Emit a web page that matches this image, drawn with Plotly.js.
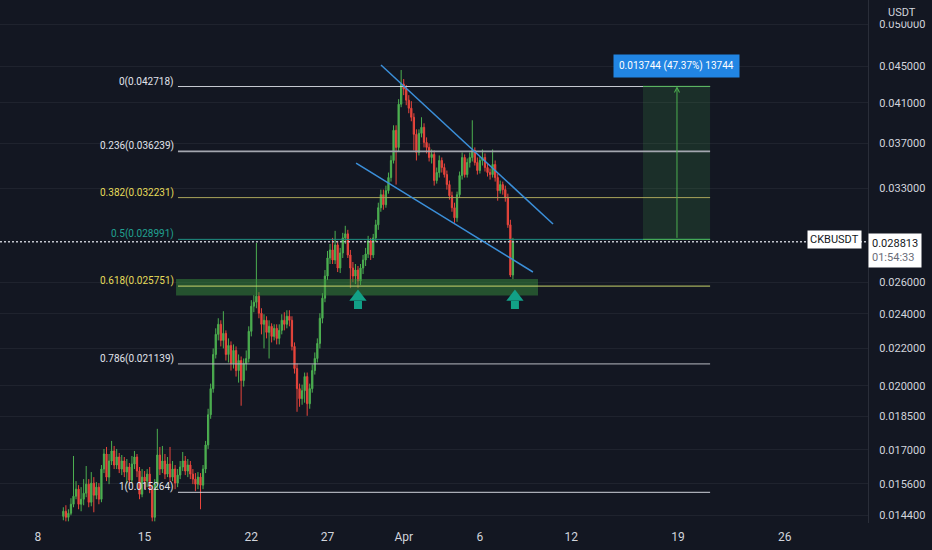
<!DOCTYPE html>
<html><head><meta charset="utf-8">
<script src="https://cdn.plot.ly/plotly-3.0.1.min.js"></script>
<style>html,body{margin:0;padding:0;background:#131722;}#chart{width:932px;height:550px;}</style>
</head><body><div id="chart"></div>
<script>
// ---- candle data (4h candles, CKB/USDT) ----
const candleStartUTC = [2021, 2, 9, 16];   // 2021-03-09 16:00
const candleHours = 4;
const open = [
.014363,.014548,.014327,.014474,.014809,.015114,.015386,.014809,.014999,.01523,
.015584,.014885,.015624,.015152,.015465,.014999,.016191,.016822,.015864,.016525,
.016951,.016358,.016694,.016191,.016525,.016068,.016275,.015744,.0164,.016694,
.016109,.015191,.015864,.015704,.015986,.015386,.014327,.015584,.016779,.016191,
.016525,.015986,.0164,.015864,.016191,.015624,.015945,.016275,.016525,.016109,
.016358,.015986,.015784,.015584,.015864,.015544,.016191,.017213,.018581,.019854,
.021651,.022784,.023373,.022438,.022842,.021651,.022154,.02116,.021873,.020787,
.021323,.020263,.02116,.021432,.022959,.02447,.02472,.025102,.024038,.023373,
.023612,.0229,.023254,.022668,.023135,.022553,.023017,.023612,.023373,.023854,
.023612,.022098,.020893,.019854,.019354,.019753,.020471,.019109,.019854,.020787,
.021432,.022267,.023733,.024974,.026415,.027655,.028225,.027514,.028586,.026959,
.02801,.029101,.029399,.027867,.026959,.026415,.026822,.02608,.026959,.027514,
.027938,.028879,.027867,.029101,.030081,.031414,.032472,.031655,.032805,.033911,
.035412,.038226,.036605,.040845,.042983,.042438,.041264,.040432,.039515,.037839,
.036141,.037935,.03852,.037074,.036605,.035684,.035957,.033653,.034345,.035412,
.034786,.03417,.033311,.03239,.031414,.030623,.032472,.034084,.035684,.03417,
.035232,.035684,.036326,.035232,.034521,.035412,.035684,.034786,.034345,.03417,
.035053,.033911,.032805,.033311,.032889,.032225,.030081,.026482];
const high = [
.014696,.014771,.014622,.015037,.016737,.015704,.015544,.015465,.015784,.016316,
.015784,.016068,.015864,.015664,.015624,.016358,.017038,.017125,.016822,.017389,
.017169,.017038,.016865,.016779,.016694,.01661,.016441,.016737,.016951,.016822,
.016275,.016191,.016109,.016191,.016275,.015544,.015784,.01793,.017125,.017169,
.016822,.016694,.017125,.016525,.016358,.016191,.016525,.016908,.016737,.01661,
.016525,.016191,.016027,.016068,.016027,.016358,.017389,.018867,.020109,.021985,
.023135,.023733,.023612,.024161,.023017,.022553,.022381,.022211,.022098,.021651,
.021541,.021432,.021873,.023254,.024847,.025166,.028732,.025359,.024346,.023976,
.023854,.023612,.023432,.023373,.023373,.023373,.023976,.024099,.024222,.024222,
.023854,.022324,.02116,.020109,.020058,.020681,.020681,.020109,.021107,.021762,
.022553,.024038,.025294,.026822,.028153,.028659,.029101,.029625,.028879,.028369,
.029474,.030005,.0297,.028225,.027374,.027235,.027097,.027235,.027867,.028369,
.029249,.029101,.029399,.030467,.031817,.032889,.032889,.033226,.034345,.035866,
.038717,.038717,.041369,.044543,.043534,.042874,.041794,.041159,.03992,.038324,
.038324,.039515,.038915,.03755,.03698,.036419,.036326,.034786,.035866,.035684,
.035142,.034521,.033653,.032722,.031817,.032722,.034433,.036141,.035957,.035593,
.036141,.039214,.036605,.035684,.035775,.036419,.036049,.035142,.034697,.036419,
.035412,.034258,.033653,.033567,.033226,.032555,.030467,.029101];
const low = [
.014218,.014181,.014181,.0144,.014696,.014999,.014622,.014548,.014771,.015075,
.014696,.014733,.01451,.014999,.014809,.014885,.016027,.015704,.015584,.016358,
.016191,.016191,.016027,.015945,.015864,.015584,.015505,.015624,.016191,.015864,
.014999,.015075,.015386,.015465,.01523,.014181,.014181,.015386,.015945,.016027,
.015784,.015864,.015664,.015704,.015386,.015465,.015784,.016109,.015945,.015864,
.015784,.015584,.015308,.015386,.014622,.015386,.016027,.017038,.018392,.019653,
.021432,.022438,.022098,.021985,.021323,.021214,.020787,.020893,.020471,.02016,
.019012,.019956,.020787,.021214,.022668,.024099,.024346,.023733,.022784,.021985,
.022553,.021432,.022324,.022438,.022211,.022211,.022784,.023017,.023135,.023254,
.021873,.020628,.018723,.018963,.01906,.019158,.018533,.018867,.019653,.020576,
.021214,.021985,.023432,.02472,.026146,.027235,.027235,.027235,.026685,.026617,
.027655,.028659,.027655,.025619,.026013,.025881,.025619,.025815,.02655,.027097,
.027655,.027514,.027655,.028806,.0297,.031095,.031254,.031414,.032555,.033567,
.035142,.033311,.036233,.040535,.041794,.040741,.03992,.039114,.036326,.035412,
.035866,.03755,.036605,.036049,.035322,.035142,.033226,.033396,.033911,.034345,
.033911,.032889,.032061,.031095,.030235,.030312,.032225,.033738,.033911,.033911,
.034786,.035322,.034964,.03417,.034258,.034964,.034433,.033997,.033738,.033911,
.033567,.031979,.032555,.032472,.031898,.029852,.026348,.026213];
const close = [
.014548,.014327,.014474,.014809,.015114,.015386,.014809,.014999,.01523,.015584,
.014885,.015624,.015152,.015465,.014999,.016191,.016822,.015864,.016525,.016951,
.016358,.016694,.016191,.016525,.016068,.016275,.015744,.0164,.016694,.016109,
.015191,.015864,.015704,.015986,.015386,.014327,.015584,.016779,.016191,.016525,
.015986,.0164,.015864,.016191,.015624,.015945,.016275,.016525,.016109,.016358,
.015986,.015784,.015584,.015864,.015544,.016191,.017213,.018581,.019854,.021651,
.022784,.023373,.022438,.022842,.021651,.022154,.02116,.021873,.020787,.021323,
.020263,.02116,.021432,.022959,.02447,.02472,.025102,.024038,.023373,.023612,
.0229,.023254,.022668,.023135,.022553,.023017,.023612,.023373,.023854,.023612,
.022098,.020893,.019854,.019354,.019753,.020471,.019109,.019854,.020787,.021432,
.022267,.023733,.024974,.026415,.027655,.028225,.027514,.028586,.026959,.02801,
.029101,.029399,.027867,.026959,.026415,.026822,.02608,.026959,.027514,.027938,
.028879,.027867,.029101,.030081,.031414,.032472,.031655,.032805,.033911,.035412,
.038226,.036605,.040845,.042983,.042438,.041264,.040432,.039515,.037839,.036141,
.037935,.03852,.037074,.036605,.035684,.035957,.033653,.034345,.035412,.034786,
.03417,.033311,.03239,.031414,.030623,.032472,.034084,.035684,.03417,.035232,
.035684,.036326,.035232,.034521,.035412,.035684,.034786,.034345,.03417,.035053,
.033911,.032805,.033311,.032889,.032225,.030081,.026482,.028813];

// ---- Fibonacci retracement ----
const fibLevels = [0, 0.236, 0.382, 0.5, 0.618, 0.786, 1];
const fibPrices = [0.042718, 0.036239, 0.032231, 0.028991, 0.025751, 0.021139, 0.015264];
const fibLineColors = ['#c9ccd4', '#a3a6af', '#a9a45a', '#1f8f83', '#c8d36a', '#b8bbc3', '#d1d4dc'];
const fibTextColors = ['#e0e3eb', '#e0e3eb', '#e6dc5a', '#21a191', '#e6dc5a', '#e0e3eb', '#e0e3eb'];
const fibStart = '2021-03-17 04:30', fibEnd = '2021-04-21 02:30';

// ---- other drawings ----
const lastPrice = 0.028813;
const symbolName = 'CKBUSDT', countdown = '01:54:33', quoteName = 'USDT';
const zoneX = ['2021-03-17 01:30', '2021-04-09 19:30'];
const zonePrices = [0.02514, 0.02622];
const channelUpperX = ['2021-03-30 12:15', '2021-04-10 19:10'];
const channelUpperY = [0.045114, 0.030143];
const channelLowerX = ['2021-03-28 21:00', '2021-04-09 11:30'];
const channelLowerY = [0.035185, 0.026688];
const positionX = ['2021-04-16 16:50', '2021-04-21 02:30'];
const positionMidX = '2021-04-18 22:20';
const positionBottom = 0.028991, positionTop = 0.042735;
const positionText = '0.013744 (47.37%) 13744';
const arrowDates = ['2021-03-29 00:00', '2021-04-08 07:10'];
const arrowHeadPrice = 0.025048, arrowStemPrice = 0.024545;

// ---- axes ----
const xRange = ['2021-03-05 12:15', '2021-05-01 11:10'];
const xTickVals = ['2021-03-08', '2021-03-15', '2021-03-22', '2021-03-27', '2021-04-01', '2021-04-06', '2021-04-12', '2021-04-19', '2021-04-26'];
const xTickText = ['8', '15', '22', '27', 'Apr', '6', '12', '19', '26'];
const yRange = [0.014121, 0.0532];
const yTickVals = [0.0144, 0.0156, 0.017, 0.0185, 0.02, 0.022, 0.024, 0.026, 0.033, 0.037, 0.041, 0.045, 0.05];

// ---- build ----
const t0 = Date.UTC(candleStartUTC[0], candleStartUTC[1], candleStartUTC[2], candleStartUTC[3]);
const times = close.map((_, i) => new Date(t0 + i * candleHours * 3600e3).toISOString().slice(0, 16).replace('T', ' '));

const UP = '#4caf50', DOWN = '#e8453c', GREEN = '#4caf50';
const traces = [];

traces.push({
  type: 'candlestick', x: times, open: open, high: high, low: low, close: close,
  increasing: {line: {color: UP, width: 1}, fillcolor: UP},
  decreasing: {line: {color: DOWN, width: 1}, fillcolor: DOWN},
  whiskerwidth: 0, hoverinfo: 'skip', showlegend: false
});

// support zone (0.618)
traces.push({
  type: 'scatter', mode: 'lines',
  x: [zoneX[0], zoneX[1], zoneX[1], zoneX[0], zoneX[0]],
  y: [zonePrices[0], zonePrices[0], zonePrices[1], zonePrices[1], zonePrices[0]],
  fill: 'toself', fillcolor: 'rgba(56,142,60,0.5)', line: {width: 0}, hoverinfo: 'skip'
});

// position (long) box
traces.push({
  type: 'scatter', mode: 'lines',
  x: [positionX[0], positionX[1], positionX[1], positionX[0], positionX[0]],
  y: [positionBottom, positionBottom, positionTop, positionTop, positionBottom],
  fill: 'toself', fillcolor: 'rgba(76,175,80,0.16)', line: {width: 0}, hoverinfo: 'skip'
});

// fib lines
fibPrices.forEach((p, k) => {
  traces.push({
    type: 'scatter', mode: 'lines', x: [fibStart, fibEnd], y: [p, p],
    line: {color: fibLineColors[k], width: k === 1 ? 1.6 : 1}, hoverinfo: 'skip'
  });
});

// last price dotted line across the whole pane
traces.push({type: 'scatter', mode: 'lines', x: xRange, y: [lastPrice, lastPrice],
  line: {color: '#c3c6ce', width: 1.5, dash: '2px,2px'}, hoverinfo: 'skip', cliponaxis: true});

// position edges
traces.push({type: 'scatter', mode: 'lines', x: positionX, y: [positionTop, positionTop], line: {color: GREEN, width: 1}, hoverinfo: 'skip'});
traces.push({type: 'scatter', mode: 'lines', x: positionX, y: [positionBottom, positionBottom], line: {color: GREEN, width: 1}, hoverinfo: 'skip'});

// channel
traces.push({type: 'scatter', mode: 'lines', x: channelUpperX, y: channelUpperY, line: {color: '#3b8fd9', width: 1.5}, hoverinfo: 'skip'});
traces.push({type: 'scatter', mode: 'lines', x: channelLowerX, y: channelLowerY, line: {color: '#3b8fd9', width: 1.5}, hoverinfo: 'skip'});

// arrows
traces.push({type: 'scatter', mode: 'markers', x: arrowDates, y: arrowDates.map(() => arrowHeadPrice),
  marker: {symbol: 'triangle-up', size: 15, color: '#12a087', line: {width: 0}}, hoverinfo: 'skip'});
traces.push({type: 'scatter', mode: 'markers', x: arrowDates, y: arrowDates.map(() => arrowStemPrice),
  marker: {symbol: 'square', size: 8, color: '#12a087', line: {width: 0}}, hoverinfo: 'skip'});

const L = Math.log10;
const annotations = [];
fibLevels.forEach((lv, k) => {
  annotations.push({
    x: fibStart, y: L(fibPrices[k]), xref: 'x', yref: 'y', xanchor: 'right', yanchor: 'middle',
    xshift: -2, yshift: 5, showarrow: false, text: lv + '(' + fibPrices[k].toFixed(6) + ')',
    font: {size: 10, color: fibTextColors[k], family: 'Roboto, sans-serif'}
  });
});
// position vertical arrow
annotations.push({
  x: positionMidX, y: L(positionTop), ax: positionMidX, ay: L(positionBottom), xref: 'x', yref: 'y', axref: 'x', ayref: 'y',
  showarrow: true, arrowhead: 5, arrowsize: 1, arrowwidth: 1, arrowcolor: GREEN, text: ''
});
annotations.push({
  x: positionMidX, xref: 'x', y: 1 - 66.5 / 523, yref: 'paper', xanchor: 'center', yanchor: 'middle', showarrow: false,
  text: positionText, bgcolor: '#2185e3', borderpad: 5, font: {size: 10, color: '#ffffff', family: 'Roboto, sans-serif'}
});
// last price labels
annotations.push({
  x: 862 / 868, xref: 'paper', y: L(lastPrice), yref: 'y', xanchor: 'right', yanchor: 'middle', yshift: 2, showarrow: false,
  text: symbolName, bgcolor: '#ffffff', borderpad: 2, font: {size: 11, color: '#131722', family: 'Roboto, sans-serif'}
});
annotations.push({
  x: 1, xref: 'paper', y: L(lastPrice), yref: 'y', xanchor: 'left', yanchor: 'top', yshift: 9, showarrow: false, align: 'left',
  text: lastPrice.toFixed(6) + '<br><span style="color:#6a6d78">' + countdown + '</span>',
  bgcolor: '#ffffff', borderpad: 3, font: {size: 11, color: '#131722', family: 'Roboto, sans-serif'}
});
annotations.push({
  x: 1 + 34 / 868, xref: 'paper', y: 1, yref: 'paper', xanchor: 'center', yanchor: 'top', yshift: -3, showarrow: false,
  text: quoteName, bgcolor: '#131722', borderpad: 2, font: {size: 11, color: '#d1d4dc', family: 'Roboto, sans-serif'}
});

const layout = {
  width: 932, height: 550,
  margin: {l: 0, r: 64, t: 0, b: 27, pad: 0},
  paper_bgcolor: '#131722', plot_bgcolor: '#131722',
  font: {family: 'Roboto, "Open Sans", sans-serif', color: '#d1d4dc', size: 11},
  showlegend: false, hovermode: false,
  xaxis: {
    type: 'date', range: xRange, tickmode: 'array', tickvals: xTickVals, ticktext: xTickText,
    tickfont: {size: 12, color: '#d1d4dc'}, showgrid: false,
    zeroline: false, showline: false, ticks: '', ticklabelstandoff: 5, rangeslider: {visible: false}, fixedrange: true
  },
  yaxis: {
    type: 'log', side: 'right', range: [L(yRange[0]), L(yRange[1])], tickmode: 'array',
    tickvals: yTickVals, ticktext: yTickVals.map(v => v.toFixed(6)),
    tickfont: {size: 11, color: '#d1d4dc'}, showgrid: true, gridcolor: 'rgba(42,46,57,0.55)',
    zeroline: false, showline: true, linecolor: '#2a2e39', linewidth: 1, ticks: '', ticklabelstandoff: 8, fixedrange: true
  },
  annotations: annotations
};

Plotly.newPlot('chart', traces, layout, {staticPlot: true, displayModeBar: false});
</script>
</body></html>
